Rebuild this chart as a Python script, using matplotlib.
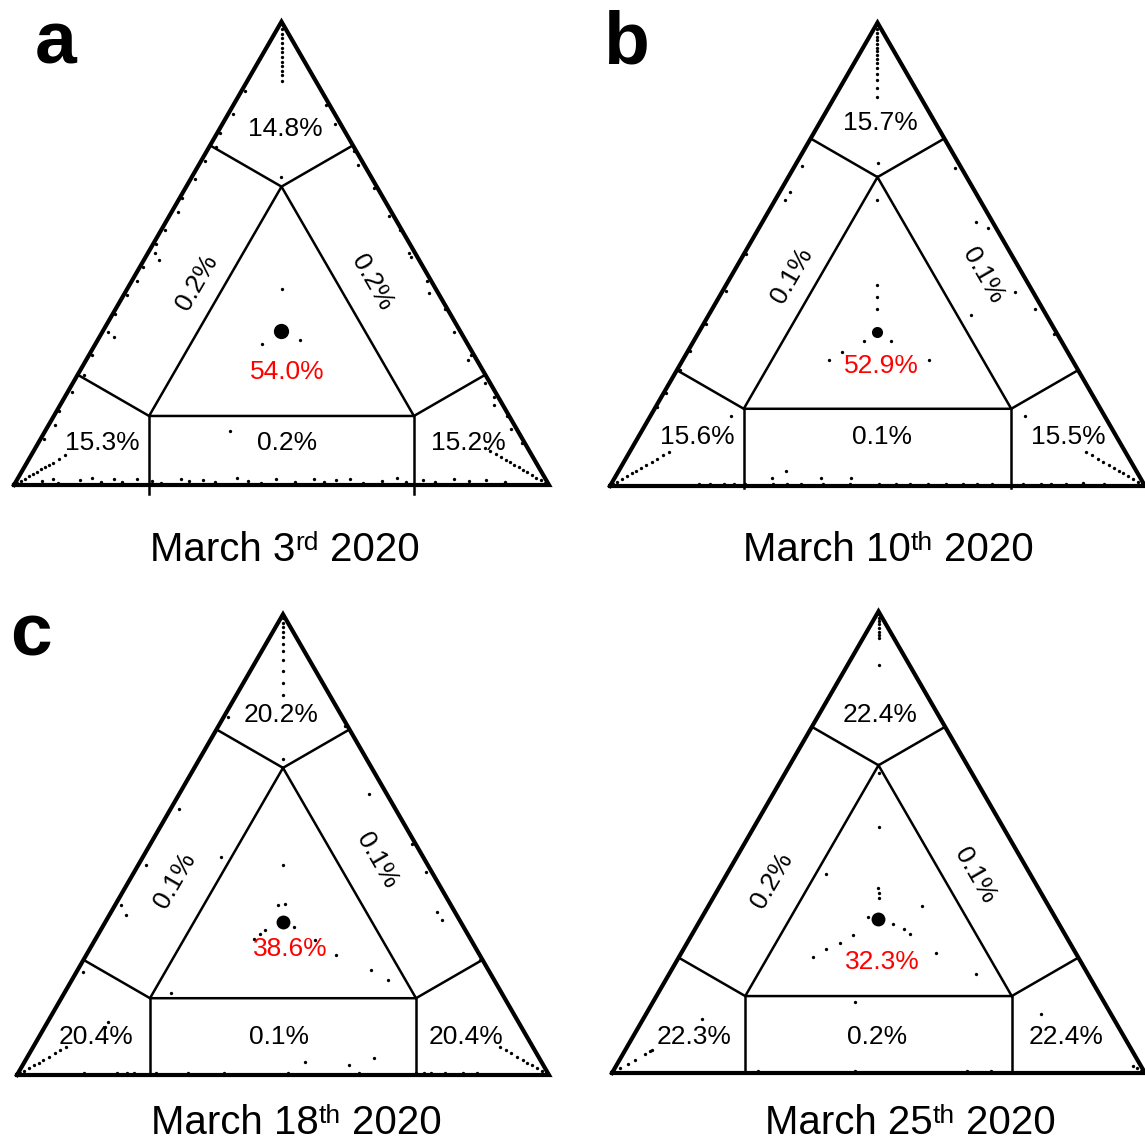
import numpy as np
import matplotlib.pyplot as plt

plt.rcParams['font.family'] = ['Liberation Sans', 'DejaVu Sans']

H = np.sqrt(3) / 2
FW, FH = 1145, 1142

tags = ['a', 'b', 'c', '']
# date titles as (main, ordinal suffix, year)
dates = [('March 3', 'rd', '2020'), ('March 10', 'th', '2020'),
         ('March 18', 'th', '2020'), ('March 25', 'th', '2020')]

# share of users per region (%):
# top corner, left band, right band, lower-left corner, base band, lower-right corner, core
shares_a = [14.8, 0.2, 0.2, 15.3, 0.2, 15.2, 54.0]
shares_b = [15.7, 0.1, 0.1, 15.6, 0.1, 15.5, 52.9]
shares_c = [20.2, 0.1, 0.1, 20.4, 0.1, 20.4, 38.6]
shares_d = [22.4, 0.2, 0.1, 22.3, 0.2, 22.4, 32.3]

# users along the three corner arms: minor share (%) of the two other components
arm_top_a = [0.3, 0.8, 1.3, 1.8, 2.3, 2.8, 3.3, 3.8, 4.3, 4.8, 5.3, 5.8, 6.4]
arm_left_a = [0.4, 0.9, 1.4, 1.9, 2.4, 2.9, 3.4, 3.9, 4.4, 4.8, 5.6, 6.4]
arm_right_a = [0.5, 1.0, 1.6, 2.1, 2.7, 3.2, 3.8, 4.3, 4.9, 5.4, 6.0, 6.6, 7.3, 8.0]

arm_top_b = [0.3, 0.7, 1.1, 1.5, 1.9, 2.3, 2.7, 3.1, 3.5, 3.9, 4.4, 4.9, 5.5, 6.2, 7.0, 8.0]
arm_left_b = [0.4, 0.9, 1.5, 2.1, 2.7, 3.3, 3.9, 4.5, 5.2, 5.9, 6.6, 7.4]
arm_right_b = [0.4, 0.9, 1.5, 2.1, 2.7, 3.3, 3.9, 4.5, 5.2, 5.9, 6.6, 7.4]

arm_top_c = [0.4, 0.9, 1.4, 1.9, 2.5, 3.2, 4.0, 5.0, 6.2, 7.5, 8.8]
arm_left_c = [0.4, 0.9, 1.5, 2.1, 2.7, 3.3, 4.0, 4.7, 5.4, 6.1]
arm_right_c = [0.4, 0.9, 1.5, 2.1, 2.7, 3.3, 4.0, 4.7, 5.4, 6.1]

arm_top_d = [0.3, 0.7, 1.0, 1.4, 1.8, 2.2, 2.6, 2.9, 5.8]
arm_left_d = [1.0, 2.0, 2.9, 4.1, 4.7, 5.0]
arm_right_d = [0.5, 1.0, 1.5]

# remaining users as (lower-right share, top share) in %, lower-left is the rest
pts_a = [
    (16.7, 66.5), (28.9, 42.2), (31.2, 30.4), (37.8, 31.3), (34.6, 11.7), (2.8, 48.6),
    (2.7, 32.0), (49.6, 49.3), (56.9, 41.4), (71.4, 27.0), (81.0, 17.3), (1.2, 23.7),
    (0.6, 85), (1.0, 80), (0.5, 76), (1.3, 73), (0.7, 70), (0.9, 66), (0.4, 62), (1.2, 59),
    (0.8, 55), (0.5, 52), (1.4, 50), (0.6, 47), (1.0, 44), (0.7, 41), (0.4, 37), (1.1, 33),
    (0.6, 28), (0.9, 20), (0.5, 16), (1.2, 13), (0.7, 10),
    (17.4, 82), (21.0, 78), (27.5, 72), (29.8, 69), (35.3, 64), (41.1, 58), (44.6, 55),
    (48.8, 50), (55.2, 44), (61.5, 38), (65.7, 33), (71.4, 28), (77.0, 22), (80.3, 19),
    (84.6, 15), (86.9, 12), (90.4, 9),
    (4.9, 0.8), (6.7, 1.3), (8.0, 0.5), (11.8, 1.0), (13.8, 1.5), (16.0, 0.7), (18.0, 1.2),
    (19.8, 0.6), (22.2, 1.4), (25.4, 0.9), (27.3, 0.5), (30.5, 1.3), (32.3, 0.8), (34.8, 1.1),
    (37.2, 0.6), (41.0, 1.5), (43.2, 0.9), (46.0, 0.5), (48.4, 1.2), (52.1, 0.7), (55.3, 1.4),
    (57.6, 0.6), (59.6, 1.0), (62.2, 1.3), (65.0, 0.5), (68.4, 0.9), (70.8, 1.5), (73.0, 0.7),
    (75.9, 1.1), (78.3, 0.6), (81.5, 1.3), (84.7, 0.8), (87.7, 1.0), (91.4, 0.6),
]
pts_b = [
    (15.2, 69.7), (19.0, 61.7), (28.3, 43.3), (29.6, 40.8), (30.8, 38.3), (31.7, 31.4),
    (36.9, 31.4), (28.9, 28.9), (27.3, 27.1), (46.0, 27.1), (15.1, 15.2), (31.3, 3.2),
    (29.4, 1.8), (38.6, 1.8), (44.1, 1.8), (70.0, 15.2), (88.1, 0.7), (49.0, 36.8),
    (1.4, 69), (1.9, 63.5), (1.8, 61.7), (0.5, 50), (0.7, 42), (0.4, 35), (0.3, 29.2),
    (0.6, 25), (0.4, 20), (0.3, 17),
    (30.2, 68.6), (39.9, 57), (42.9, 55.6), (54.8, 41.9), (60.2, 38.3), (66.5, 32.9),
    (16.4, 0.5), (18.4, 0.5), (21.1, 0.5), (23.0, 0.5), (25.0, 0.5), (30.3, 0.5), (32.9, 0.5),
    (35.5, 0.5), (39.5, 0.5), (44.7, 0.5), (50.0, 0.5), (53.3, 0.5), (55.9, 0.5), (59.2, 0.5),
    (62.5, 0.5), (65.8, 0.5), (68.4, 0.5), (71.1, 0.5), (77.0, 0.5), (80.3, 0.5), (82.2, 0.5),
    (84.9, 0.5), (88.2, 0.5), (92.1, 0.5),
]
pts_c = [
    (15.7, 68.6), (27.3, 45.5), (30.6, 36.8), (31.7, 37.2), (30.9, 31.4), (30.3, 30.7),
    (29.8, 29.6), (36.0, 32.1), (41.4, 29.2), (47.0, 26.0), (55.1, 22.7), (59.5, 20.6),
    (20.1, 17.7), (14.7, 47.3), (1.6, 57.8), (3.1, 34.7), (1.5, 45.5), (1.2, 22.4),
    (1.1, 36.8), (35.6, 61.0), (54.8, 44.0), (61.2, 35.4), (63.1, 33.6), (74.5, 24.9),
    (49.1, 50.2), (11.3, 11.6), (11.2, 10.5), (52.6, 2.9), (61.3, 2.2), (65.3, 3.6),
    (0.8, 77.6), (23.8, 75.8),
    (12.4, 0.5), (18.5, 0.5), (20.5, 0.5), (21.8, 0.5), (25.8, 0.5), (31.9, 0.5), (38.6, 0.5),
    (50.7, 0.5), (64.1, 0.5), (74.8, 0.5), (76.2, 0.5), (77.5, 0.5), (80.2, 0.5), (83.6, 0.5),
    (86.2, 0.5),
]
pts_d = [
    (17.5, 65.0), (23.4, 53.3), (29.9, 40.1), (30.6, 39.1), (31.1, 38.0), (31.2, 33.7),
    (30.3, 30.0), (28.6, 28.2), (26.7, 26.8), (25.2, 25.2), (36.6, 32.3), (39.1, 31.2),
    (40.9, 30.1), (47.9, 25.9), (40.2, 36.1), (18.6, 43.1), (57.5, 21.5), (38.0, 15.3),
    (74.0, 12.8), (11.0, 11.7),
    (27.2, 0.5), (45.3, 0.5), (66.3, 0.5), (70.8, 0.5),
]

# centre of the core cluster (equal composition)
core = (33.3, 33.3)

panels = [
    dict(shares=shares_a, arms=(arm_top_a, arm_left_a, arm_right_a), pts=pts_a),
    dict(shares=shares_b, arms=(arm_top_b, arm_left_b, arm_right_b), pts=pts_b),
    dict(shares=shares_c, arms=(arm_top_c, arm_left_c, arm_right_c), pts=pts_c),
    dict(shares=shares_d, arms=(arm_top_d, arm_left_d, arm_right_d), pts=pts_d),
]

# layout: lower-left corner (px), side length (px), inner cuts (bl, br, top),
# label spots in triangle coordinates, core marker size, title spot (px)
layout = [
    dict(origin=(14, 485), side=535, cuts=(0.178, 0.178, 0.149), drop=0.016, core_ms=11,
         spots=[(0.507, 0.665), (0.342, 0.378), (0.669, 0.378), (0.166, 0.079),
                (0.51, 0.079), (0.85, 0.079), (0.51, 0.211)],
         title=(285, 561), tag=(35, 63)),
    dict(origin=(610, 486), side=535, cuts=(1 / 6, 1 / 6, 1 / 6), drop=0.004, core_ms=8,
         spots=[(0.505, 0.679), (0.340, 0.394), (0.697, 0.394), (0.163, 0.092),
                (0.508, 0.092), (0.856, 0.092), (0.507, 0.224)],
         title=(888, 561), tag=(603, 63)),
    dict(origin=(17, 1075), side=532, cuts=(1 / 6, 1 / 6, 1 / 6), drop=0.0, core_ms=10,
         spots=[(0.497, 0.677), (0.296, 0.366), (0.677, 0.403), (0.148, 0.071),
                (0.493, 0.071), (0.844, 0.071), (0.514, 0.236)],
         title=(296, 1134), tag=(10, 655)),
    dict(origin=(612, 1073), side=533, cuts=(1 / 6, 1 / 6, 1 / 6), drop=0.0, core_ms=10,
         spots=[(0.503, 0.672), (0.300, 0.362), (0.681, 0.371), (0.154, 0.068),
                (0.497, 0.068), (0.852, 0.068), (0.508, 0.208)],
         title=(910, 1134), tag=None),
]


def tern(br, top):
    br = np.asarray(br, dtype=float) / 100
    top = np.asarray(top, dtype=float) / 100
    return br + top / 2, top * H


def point(bl, br, top):
    return br + top / 2, top * H


fig = plt.figure(figsize=(FW / 100, FH / 100), dpi=100)
renderer = fig.canvas.get_renderer()
m = 0.06


def text_width(s, size):
    t = fig.text(0, 0, s, fontsize=size)
    w = t.get_window_extent(renderer).width
    t.remove()
    return w


def date_title(cx, base, parts, size=29, sup_size=19, raise_px=11):
    main, suffix, year = parts
    gap = 0.278 * size * 100 / 72
    widths = [text_width(main, size), text_width(suffix, sup_size), text_width(year, size)]
    total = widths[0] + widths[1] + gap + widths[2]
    x = cx - total / 2
    fig.text(x / FW, 1 - base / FH, main, fontsize=size, va='baseline')
    x += widths[0]
    fig.text(x / FW, 1 - (base - raise_px) / FH, suffix, fontsize=sup_size, va='baseline')
    x += widths[1] + gap
    fig.text(x / FW, 1 - base / FH, year, fontsize=size, va='baseline')


for panel, lay, date, tag in zip(panels, layout, dates, tags):
    x0, y0 = lay['origin']
    W = lay['side']
    ax = fig.add_axes([(x0 - m * W) / FW, 1 - (y0 + m * W) / FH,
                       W * (1 + 2 * m) / FW, W * (H + 2 * m) / FH])
    ax.set_xlim(-m, 1 + m)
    ax.set_ylim(-m, H + m)
    ax.axis('off')

    # outer triangle
    ax.plot([0, 1, 0.5, 0], [0, 0, H, 0], color='black', lw=3.0,
            solid_joinstyle='miter', clip_on=False, zorder=3)

    # inner triangle and the perpendiculars to the outer sides
    cbl, cbr, ctop = lay['cuts']
    v_top = (cbl, cbr, 1 - cbl - cbr)
    v_left = (1 - cbr - ctop, cbr, ctop)
    v_right = (cbl, 1 - cbl - ctop, ctop)
    ix, iy = zip(*[point(*v) for v in (v_top, v_left, v_right, v_top)])
    ax.plot(ix, iy, color='black', lw=1.8, zorder=3)

    def seg(v, foot):
        (ax_, ay_), (bx_, by_) = point(*v), point(*foot)
        ax.plot([ax_, bx_], [ay_, by_], color='black', lw=1.8, zorder=3)

    # foot on left side (br = 0), right side (bl = 0), base (top = 0)
    seg(v_top, (v_top[0] + v_top[1] / 2, 0, v_top[2] + v_top[1] / 2))
    seg(v_top, (0, v_top[1] + v_top[0] / 2, v_top[2] + v_top[0] / 2))
    seg(v_left, (v_left[0] + v_left[1] / 2, 0, v_left[2] + v_left[1] / 2))
    seg(v_right, (0, v_right[1] + v_right[0] / 2, v_right[2] + v_right[0] / 2))
    for v in (v_left, v_right):
        vx, vy = point(*v)
        ax.plot([vx, vx], [vy, -lay['drop']], color='black', lw=1.8, zorder=3,
                clip_on=False)

    # users: corner arms, scattered points, core cluster
    arm_top, arm_left, arm_right = panel['arms']
    e = np.array(arm_top)
    ax.plot(*tern(e, 100 - 2 * e), 'o', color='black', ms=2.4, mew=0, zorder=4)
    e = np.array(arm_left)
    ax.plot(*tern(e, e), 'o', color='black', ms=2.4, mew=0, zorder=4)
    e = np.array(arm_right)
    ax.plot(*tern(100 - 2 * e, e), 'o', color='black', ms=2.4, mew=0, zorder=4)
    br, top = zip(*panel['pts'])
    ax.plot(*tern(br, top), 'o', color='black', ms=2.4, mew=0, zorder=4)
    ax.plot(*tern(*core), 'o', color='black', ms=lay['core_ms'], mew=0, zorder=4)

    # region labels
    rots = [0, 60, -60, 0, 0, 0, 0]
    for k, (val, (sx, sy)) in enumerate(zip(panel['shares'], lay['spots'])):
        ax.text(sx, sy, f'{val:.1f}%', ha='center', va='center', fontsize=19,
                rotation=rots[k], rotation_mode='anchor',
                color='#ff0000' if k == 6 else 'black', zorder=5)

    tx, ty = lay['title']
    date_title(tx, ty, date)
    if lay['tag']:
        gx, gy = lay['tag']
        fig.text(gx / FW, 1 - gy / FH, tag, ha='left', va='baseline',
                 fontsize=54, fontweight='bold')

fig.savefig('out.png', dpi=100)
